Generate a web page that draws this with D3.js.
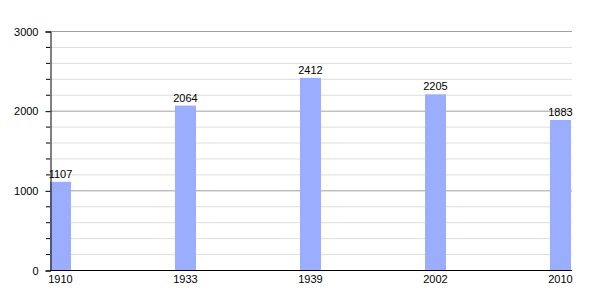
<!DOCTYPE html>
<html>
<head>
    <style>
        body { margin: 0; background: #ffffff; }
        svg text { font-family: "Liberation Sans", Arial, sans-serif; font-size: 11px; fill: #000; }
    </style>
</head>
<body>
    <svg id="chart" width="600" height="300"></svg>
    <script src="https://d3js.org/d3.v7.min.js"></script>
    <script>
        const years = ['1910', '1933', '1939', '2002', '2010'];
        const population = [1107, 2064, 2412, 2205, 1883];
        const yTicks = [0, 1000, 2000, 3000];

        const svg = d3.select('#chart');
        const plotLeft = 50, plotRight = 572, plotTop = 31, plotBottom = 270;
        const barWidth = 21;

        const x = d3.scalePoint().domain(years).range([plotLeft, 550]);
        const y = d3.scaleLinear().domain([0, 3000]).range([plotBottom, plotTop]);

        // minor grid every 200
        const minor = d3.range(200, 3000, 200).filter(v => v % 1000 !== 0);
        svg.append('g').selectAll('line').data(minor).join('line')
            .attr('x1', plotLeft).attr('x2', plotRight)
            .attr('y1', d => y(d) + 0.5).attr('y2', d => y(d) + 0.5)
            .attr('stroke', '#dddddd');
        svg.append('g').selectAll('line').data(minor).join('line')
            .attr('x1', plotLeft - 4).attr('x2', plotLeft)
            .attr('y1', d => y(d) + 0.5).attr('y2', d => y(d) + 0.5)
            .attr('stroke', '#000');

        // major grid
        svg.append('g').selectAll('line').data(yTicks.slice(1)).join('line')
            .attr('x1', plotLeft).attr('x2', plotRight)
            .attr('y1', d => y(d) + 0.5).attr('y2', d => y(d) + 0.5)
            .attr('stroke', '#a0a0a0');

        // bars
        svg.append('g').selectAll('rect').data(population).join('rect')
            .attr('x', (d, i) => x(years[i]))
            .attr('y', d => y(d))
            .attr('width', barWidth)
            .attr('height', d => plotBottom - y(d))
            .attr('fill', '#9aadff');

        // value labels
        svg.append('g').selectAll('text').data(population).join('text')
            .attr('x', (d, i) => x(years[i]) + barWidth / 2)
            .attr('y', d => y(d) - 4)
            .attr('text-anchor', 'middle')
            .text(d => d);

        // y axis
        const yAxis = svg.append('g')
            .attr('transform', `translate(${plotLeft + 0.5},0.5)`)
            .call(d3.axisLeft(y).tickValues(yTicks).tickSize(5).tickPadding(7).tickFormat(d3.format('d')));
        yAxis.select('.domain').attr('stroke', '#000');
        yAxis.selectAll('text').style('font-size', '11px');

        // x axis
        svg.append('line')
            .attr('x1', plotLeft).attr('x2', plotRight)
            .attr('y1', plotBottom + 0.5).attr('y2', plotBottom + 0.5)
            .attr('stroke', '#000');
        svg.append('g').selectAll('text').data(years).join('text')
            .attr('x', d => x(d) + barWidth / 2)
            .attr('y', plotBottom + 13)
            .attr('text-anchor', 'middle')
            .text(d => d);
    </script>
</body>
</html>
